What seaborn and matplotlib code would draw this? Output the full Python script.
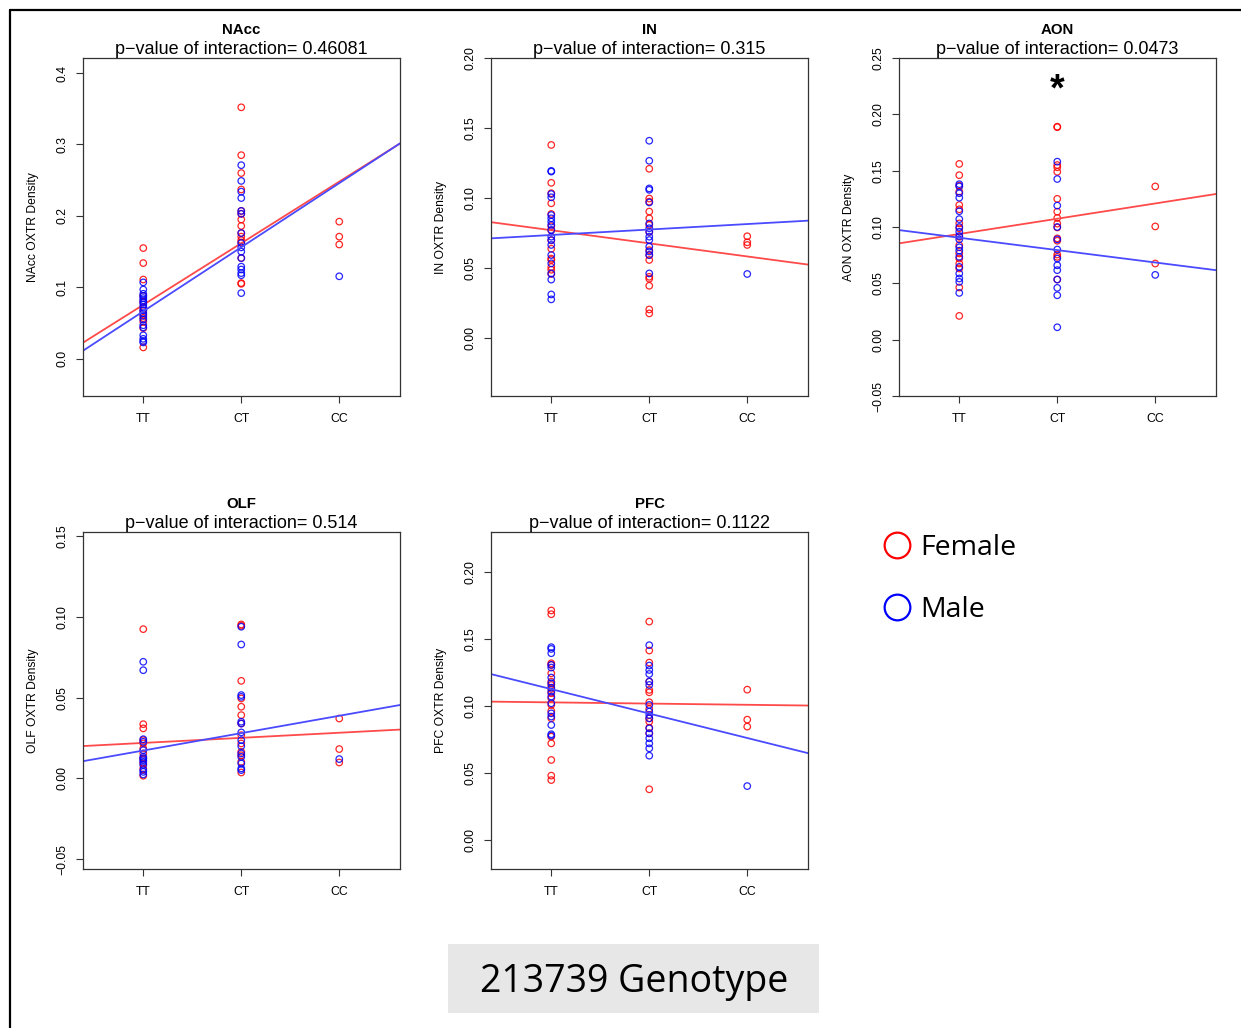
import matplotlib.pyplot as plt
import matplotlib.patches as mpatches
from matplotlib.lines import Line2D
from matplotlib import ticker
import numpy as np
import pandas as pd
import seaborn as sns

# categories and labels
genotypes = ["TT", "CT", "CC"]
regions = ["NAcc", "IN", "AON", "OLF", "PFC"]
pvalues = ["0.46081", "0.315", "0.0473", "0.514", "0.1122"]

# OXTR density values, per region / sex / genotype
nacc_female = {
    "TT": [0.155, 0.134, 0.111, 0.088, 0.080, 0.072, 0.067, 0.062, 0.057, 0.052, 0.043, 0.016],
    "CT": [0.352, 0.285, 0.260, 0.237, 0.207, 0.203, 0.195, 0.186, 0.176, 0.171, 0.166, 0.163, 0.141, 0.106, 0.105],
    "CC": [0.192, 0.171, 0.160],
}
nacc_male = {
    "TT": [0.107, 0.097, 0.091, 0.088, 0.085, 0.082, 0.079, 0.076, 0.072, 0.068, 0.064, 0.060, 0.055, 0.047, 0.044, 0.033, 0.028, 0.025, 0.023],
    "CT": [0.271, 0.249, 0.234, 0.225, 0.207, 0.203, 0.176, 0.162, 0.156, 0.150, 0.141, 0.129, 0.125, 0.120, 0.117, 0.092],
    "CC": [0.1155],
}
in_female = {
    "TT": [0.138, 0.111, 0.1036, 0.0964, 0.0888, 0.080, 0.077, 0.070, 0.064, 0.057, 0.056, 0.051, 0.049, 0.046],
    "CT": [0.121, 0.0998, 0.0976, 0.0905, 0.0857, 0.081, 0.076, 0.063, 0.0595, 0.056, 0.044, 0.0426, 0.0376, 0.0207, 0.0179],
    "CC": [0.0729, 0.0686, 0.0667],
}
in_male = {
    "TT": [0.1195, 0.119, 0.103, 0.1007, 0.088, 0.0857, 0.0833, 0.081, 0.0774, 0.0726, 0.0702, 0.0667, 0.0595, 0.0536, 0.0464, 0.042, 0.0314, 0.0279],
    "CT": [0.141, 0.1267, 0.107, 0.106, 0.097, 0.082, 0.0786, 0.076, 0.0726, 0.0702, 0.0655, 0.062, 0.0595, 0.0464],
    "CC": [0.046],
}
aon_female = {
    "TT": [0.156, 0.146, 0.1367, 0.1314, 0.1195, 0.1157, 0.1032, 0.0988, 0.0913, 0.0839, 0.0765, 0.072, 0.0676, 0.0632, 0.0463, 0.0211],
    "CT": [0.189, 0.1886, 0.155, 0.153, 0.149, 0.125, 0.1136, 0.108, 0.103, 0.0996, 0.0899, 0.0878, 0.0756, 0.0735, 0.0534],
    "CC": [0.136, 0.1005, 0.0676],
}
aon_male = {
    "TT": [0.138, 0.136, 0.130, 0.126, 0.114, 0.107, 0.100, 0.0958, 0.092, 0.089, 0.082, 0.079, 0.0735, 0.0646, 0.0587, 0.0543, 0.0513, 0.0415],
    "CT": [0.158, 0.1426, 0.119, 0.100, 0.089, 0.080, 0.072, 0.066, 0.0617, 0.0534, 0.046, 0.0394, 0.011],
    "CC": [0.0575],
}
olf_female = {
    "TT": [0.0924, 0.0336, 0.031, 0.0237, 0.0217, 0.0186, 0.0155, 0.0124, 0.0093, 0.0062, 0.0017],
    "CT": [0.0953, 0.0945, 0.0604, 0.0495, 0.0444, 0.0392, 0.034, 0.0268, 0.0217, 0.0165, 0.0144, 0.0103, 0.0037],
    "CC": [0.0371, 0.0182, 0.0099],
}
olf_male = {
    "TT": [0.0722, 0.067, 0.0243, 0.0227, 0.0175, 0.0134, 0.0124, 0.0113, 0.0103, 0.0083, 0.0052, 0.0041, 0.0025],
    "CT": [0.0939, 0.0829, 0.0516, 0.0505, 0.0351, 0.034, 0.0285, 0.0237, 0.020, 0.0155, 0.0134, 0.0093, 0.0062, 0.0052],
    "CC": [0.012],
}
pfc_female = {
    "TT": [0.1714, 0.1686, 0.132, 0.1308, 0.1245, 0.1183, 0.1158, 0.1128, 0.1096, 0.1059, 0.1009, 0.0964, 0.0909, 0.0772, 0.0722, 0.0598, 0.0481, 0.0448],
    "CT": [0.1631, 0.1415, 0.1325, 0.1183, 0.1121, 0.1103, 0.1029, 0.0979, 0.0909, 0.0884, 0.0839, 0.0797, 0.0379],
    "CC": [0.1123, 0.0899, 0.0847],
}
pfc_male = {
    "TT": [0.144, 0.1427, 0.1395, 0.1308, 0.1288, 0.1213, 0.1171, 0.1138, 0.1108, 0.1071, 0.1021, 0.0946, 0.0922, 0.0859, 0.079, 0.078],
    "CT": [0.1455, 0.1303, 0.127, 0.124, 0.1183, 0.1158, 0.1009, 0.0959, 0.0934, 0.0909, 0.0834, 0.0797, 0.076, 0.0722, 0.0685, 0.063],
    "CC": [0.0403],
}

# fitted line values at TT and at CC (female, male)
nacc_fit = {"Female": (0.0756, 0.2480), "Male": (0.0665, 0.2459)}
in_fit = {"Female": (0.0772, 0.0585), "Male": (0.0738, 0.0816)}
aon_fit = {"Female": (0.0938, 0.1209), "Male": (0.0905, 0.0685)}
olf_fit = {"Female": (0.0220, 0.0283), "Male": (0.0173, 0.0388)}
pfc_fit = {"Female": (0.1028, 0.1010), "Male": (0.1127, 0.0762)}

female_data = [nacc_female, in_female, aon_female, olf_female, pfc_female]
male_data = [nacc_male, in_male, aon_male, olf_male, pfc_male]
fits = [nacc_fit, in_fit, aon_fit, olf_fit, pfc_fit]


def make_df(female, male):
    rows = []
    for sex, groups in (("Female", female), ("Male", male)):
        for g, vals in groups.items():
            for v in vals:
                rows.append((g, sex, v))
    df = pd.DataFrame(rows, columns=["genotype", "sex", "density"])
    df["pos"] = df["genotype"].map({g: i + 1 for i, g in enumerate(genotypes)})
    return df


sns.set_theme(style="white")
plt.rcParams['font.family'] = ['Liberation Sans', 'DejaVu Sans']
plt.rcParams['text.color'] = 'black'
plt.rcParams['axes.labelcolor'] = 'black'
plt.rcParams['xtick.color'] = 'black'
plt.rcParams['ytick.color'] = 'black'

W, H = 1241, 1028
fig = plt.figure(figsize=(W / 100, H / 100), dpi=100)

# pixel boxes of the panels: left, top, right, bottom
boxes = [(83, 58, 400, 396), (491, 58, 808, 396), (899, 58, 1216, 396),
         (83, 532, 400, 869), (491, 532, 808, 869)]
ylims = [(-0.052, 0.421), (-0.041, 0.20), (-0.05, 0.25), (-0.056, 0.1525), (-0.0216, 0.23)]
ytick_sets = [np.arange(0, 0.41, 0.1), np.arange(0, 0.201, 0.05), np.arange(-0.05, 0.251, 0.05),
              np.arange(-0.05, 0.151, 0.05), np.arange(0, 0.201, 0.05)]
decimals = [1, 2, 2, 2, 2]
colors = {"Female": "#ff0000", "Male": "#0000ff"}
line_colors = {"Female": "#ff4a4a", "Male": "#4a4aff"}

for i, region in enumerate(regions):
    l, t, r, b = boxes[i]
    ax = fig.add_axes([l / W, 1 - b / H, (r - l) / W, (b - t) / H])
    df = make_df(female_data[i], male_data[i])
    for sex in ["Female", "Male"]:
        sub = df[df["sex"] == sex]
        sns.scatterplot(data=sub, x="pos", y="density", ax=ax, marker="o", s=22,
                        facecolor="none", edgecolor=colors[sex], linewidth=0.9,
                        alpha=0.85, legend=False)
        a, c = fits[i][sex]
        ax.axline((1, a), (3, c), color=line_colors[sex], lw=1.3, zorder=1)

    ax.set_xlim(0.385, 3.62)
    ax.set_ylim(*ylims[i])
    ax.set_xticks([1, 2, 3])
    ax.set_xticklabels(genotypes)
    ax.set_yticks(ytick_sets[i])
    d = decimals[i]
    ax.yaxis.set_major_formatter(ticker.FuncFormatter(
        lambda v, p, d=d: f"{v:.{d}f}".replace("-", "\u2212")))
    ax.tick_params(axis="both", which="major", direction="out", length=5, width=0.8,
                   color="#333333", labelsize=8.8, pad=5.5, bottom=True, left=True)
    ax.tick_params(axis="x", pad=7.5)
    ax.tick_params(axis="y", labelrotation=90)
    for lab in ax.get_yticklabels():
        lab.set_va("center")
    for sp in ax.spines.values():
        sp.set_color("#333333")
        sp.set_linewidth(0.9)
    ax.set_xlabel("")
    ax.set_ylabel(f"{region} OXTR Density", fontsize=8.7)
    ax.yaxis.set_label_coords(-0.139, 0.5)

    hpx = b - t
    ax.text(0.5, 1 + 24 / hpx, region, transform=ax.transAxes, ha="center",
            va="baseline", fontsize=10.8, fontweight="bold")
    ax.text(0.5, 1 + 3.5 / hpx, f"p\u2212value of interaction= {pvalues[i]}",
            transform=ax.transAxes, ha="center", va="baseline", fontsize=13)
    if region == "AON":
        ax.text(2, 0.2215, "*", ha="center", va="center", fontsize=27, fontweight="bold")

# legend
for sex, y_c, y_b in (("Female", 545, 555), ("Male", 607, 617)):
    fig.add_artist(Line2D([897 / W], [1 - y_c / H], marker="o", ms=18.5, mfc="none",
                          mec=colors[sex], mew=1.6, transform=fig.transFigure))
    fig.text(920 / W, 1 - y_b / H, sex, fontsize=20.5, family="Open Sans", va="baseline")

# genotype label box
fig.add_artist(mpatches.Rectangle((448 / W, 1 - 1013 / H), (819 - 448) / W, (1013 - 944) / H,
                                  transform=fig.transFigure, fc="#e7e7e7", ec="none"))
fig.text(634 / W, 1 - 992 / H, "213739 Genotype", fontsize=27, family="Open Sans",
         ha="center", va="baseline")

# slide frame
fig.add_artist(Line2D([9.5 / W, 1], [1 - 9.5 / H, 1 - 9.5 / H], color="black", lw=1.6,
                      transform=fig.transFigure))
fig.add_artist(Line2D([9.5 / W, 9.5 / W], [0, 1 - 9.5 / H], color="black", lw=1.6,
                      transform=fig.transFigure))

fig.savefig("out.png", dpi=100)
